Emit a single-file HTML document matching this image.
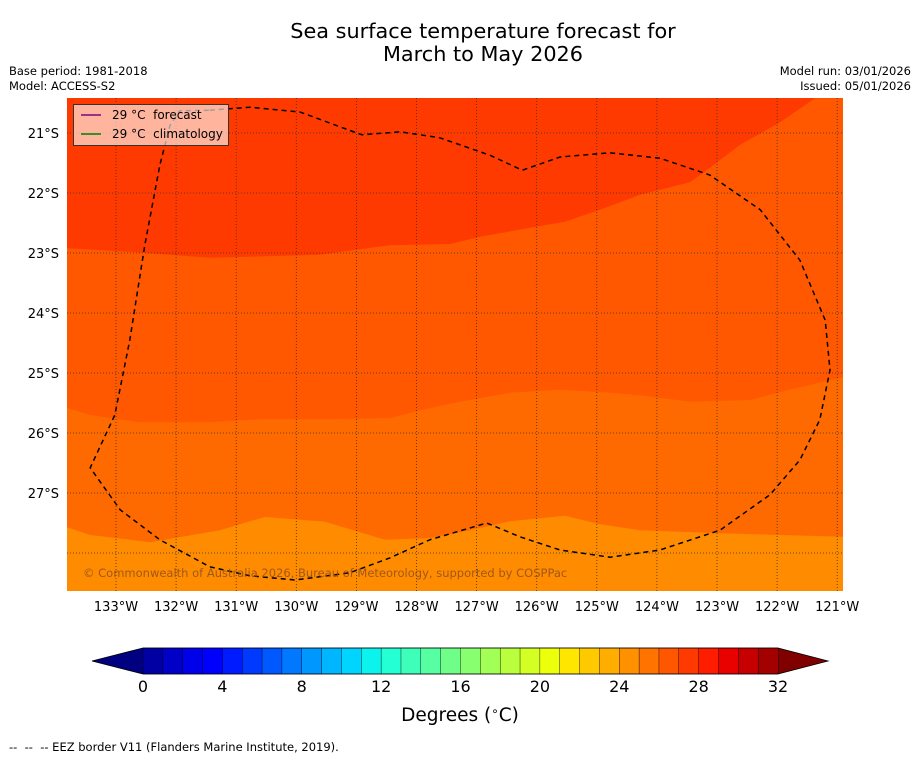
<!DOCTYPE html>
<html><head><meta charset="utf-8"><style>
body{margin:0;background:#fff;font-family:"DejaVu Sans","Liberation Sans",sans-serif}
svg text{font-family:"DejaVu Sans","Liberation Sans",sans-serif}
</style></head><body>
<svg id="c" width="919" height="758" xmlns="http://www.w3.org/2000/svg">
<text x="483" y="38" font-size="20.8" text-anchor="middle">Sea surface temperature forecast for</text>
<text x="483" y="61" font-size="20.8" text-anchor="middle">March to May 2026</text>
<text x="9" y="75" font-size="11.5">Base period: 1981-2018</text>
<text x="9" y="90" font-size="11.5">Model: ACCESS-S2</text>
<text x="911" y="75" font-size="11.5" text-anchor="end">Model run: 03/01/2026</text>
<text x="911" y="90" font-size="11.5" text-anchor="end">Issued: 05/01/2026</text>
<g id="map"></g>
<g id="cbar"></g>
<text x="460" y="721" font-size="18.5" text-anchor="middle">Degrees (<tspan font-size="12" dy="-6">∘</tspan><tspan dy="6">C)</tspan></text>
<text x="9" y="751" font-size="11.5" xml:space="preserve">--  --  -- EEZ border V11 (Flanders Marine Institute, 2019).</text>
</svg>
<script>
// data (lon in degrees W, lat in degrees S)
const lonTicks=[133,132,131,130,129,128,127,126,125,124,123,122,121];
const latTicks=[21,22,23,24,25,26,27];
const bandColors=["#ff3a00","#ff5800","#ff6a00","#ff8c00"];
const b1Lon=[133.82,132.77,131.44,129.61,128.44,127.44,126.94,126.11,125.53,124.95,124.28,123.45,123.12,122.62,121.95,121.37];
const b1Lat=[22.92,22.98,23.08,23.03,22.87,22.85,22.73,22.58,22.48,22.28,22.03,21.82,21.58,21.2,20.82,20.42];
const b2Lon=[133.82,133.43,132.6,131.44,130.6,129.44,128.44,127.94,127.28,126.44,125.61,124.78,124.28,123.45,122.45,121.79,121.12,120.9];
const b2Lat=[25.58,25.7,25.82,25.82,25.77,25.77,25.75,25.62,25.48,25.33,25.28,25.33,25.37,25.48,25.45,25.28,25.12,25.07];
const b3Lon=[133.82,133.43,132.43,131.27,130.52,129.52,128.52,127.77,127.11,126.44,125.53,124.95,124.28,122.95,121.95,120.9];
const b3Lat=[27.57,27.7,27.82,27.62,27.4,27.48,27.78,27.75,27.62,27.47,27.38,27.52,27.62,27.67,27.7,27.73];
const eezLon=[131.44,130.77,129.94,128.91,128.27,127.61,126.78,126.24,125.61,124.78,123.95,123.12,122.28,121.62,121.2,121.12,121.29,121.62,122.12,122.95,123.95,124.78,125.61,126.28,126.83,127.78,128.44,129.11,130.02,130.77,131.44,132.27,132.93,133.43,133.02,132.77,132.52,132.27,132.1,131.94,131.44];
const eezLat=[20.62,20.57,20.65,21.03,20.98,21.08,21.37,21.62,21.4,21.33,21.42,21.7,22.28,23.12,24.12,24.95,25.78,26.45,27.03,27.62,27.95,28.07,27.95,27.73,27.5,27.78,28.08,28.33,28.45,28.38,28.23,27.78,27.28,26.58,25.7,24.45,22.87,21.53,20.87,20.63,20.62];
const cbTicks=[0,4,8,12,16,20,24,28,32];

const NS="http://www.w3.org/2000/svg";
const X0=67,X1=843,Y0=98,Y1=591;
const xs=lon=>116+(133-lon)*60.1;
const ys=lat=>133+(lat-21)*60;
function mk(t,a,p){const e=document.createElementNS(NS,t);for(const k in a)e.setAttribute(k,a[k]);p.appendChild(e);return e;}
const map=document.getElementById('map');
const defs=mk('defs',{},map);
const cp=mk('clipPath',{id:'clip'},defs);mk('rect',{x:X0,y:Y0,width:X1-X0,height:Y1-Y0},cp);
const g=mk('g',{'clip-path':'url(#clip)'},map);
let r=mk('rect',{x:X0,y:Y0,width:X1-X0,height:Y1-Y0,fill:bandColors[3]},g);


function band(lons,lats,color,name){
  let d='M'+(X0-5)+','+(Y0-5);
  lons.forEach((l,i)=>{d+=' L'+xs(l).toFixed(1)+','+ys(lats[i]).toFixed(1);});
  d+=' L'+(X1+5)+','+ys(lats[lats.length-1]).toFixed(1)+' L'+(X1+5)+','+(Y0-5)+'Z';
  const p=mk('path',{d:d,fill:color},g);
  
  
}
band(b3Lon,b3Lat,bandColors[2],'band-26-27');
band(b2Lon,b2Lat,bandColors[1],'band-27-28');
band(b1Lon,b1Lat,bandColors[0],'band-28-29');
lonTicks.forEach(l=>{const x=xs(l);
  const ln=mk('line',{x1:x,x2:x,y1:Y0,y2:Y1,stroke:'#333','stroke-width':0.8,'stroke-dasharray':'1,2'},g);
  
  
  const t=mk('text',{x:x,y:611,'font-size':13,'text-anchor':'middle'},map);t.textContent=l+'°W';
  
  
});
latTicks.concat([28]).forEach(l=>{const y=ys(l);
  const ln=mk('line',{x1:X0,x2:X1,y1:y,y2:y,stroke:'#333','stroke-width':0.8,'stroke-dasharray':'1,2'},g);
  
  
});
latTicks.forEach(l=>{const y=ys(l);
  const t=mk('text',{x:59,y:y+5,'font-size':13,'text-anchor':'end'},map);t.textContent=l+'°S';
  
  
});
let d='';eezLon.forEach((l,i)=>{d+=(i?' L':'M')+xs(l).toFixed(1)+','+ys(eezLat[i]).toFixed(1);});
const eez=mk('path',{d:d,fill:'none',stroke:'#000','stroke-width':1.5,'stroke-dasharray':'5,4'},g);


const wm=mk('text',{x:83,y:577,'font-size':11.5,fill:'#8a4a1a','fill-opacity':0.8},g);
wm.textContent='© Commonwealth of Australia 2026, Bureau of Meteorology, supported by COSPPac';


const lg=mk('g',{},map);


mk('rect',{x:73.5,y:104.5,width:155,height:41,fill:'#fff','fill-opacity':0.62,stroke:'#333','stroke-width':1},lg);
mk('line',{x1:81,x2:101,y1:115,y2:115,stroke:'#800080','stroke-width':1.5},lg);
mk('line',{x1:81,x2:101,y1:134,y2:134,stroke:'#008000','stroke-width':1.5},lg);
let t1=mk('text',{x:112,y:119,'font-size':12},lg);t1.textContent='29 °C\u00a0 forecast';


let t2=mk('text',{x:112,y:138,'font-size':12},lg);t2.textContent='29 °C\u00a0 climatology';


function jetc(v,pts){for(let i=1;i<pts.length;i++){if(v<=pts[i][0]){const a=pts[i-1],b=pts[i];return a[1]+(b[1]-a[1])*(v-a[0])/(b[0]-a[0]);}}return pts[pts.length-1][1];}
const R=[[0,0],[0.35,0],[0.66,1],[0.89,1],[1,0.5]],G=[[0,0],[0.125,0],[0.375,1],[0.64,1],[0.91,0],[1,0]],B=[[0,0.5],[0.11,1],[0.34,1],[0.65,0],[1,0]];
function jet(v){return 'rgb('+[R,G,B].map(p=>Math.round(255*jetc(v,p))).join(',')+')';}
const cb=document.getElementById('cbar');
const C0=143,C1=778,CY0=648,CY1=674,bw=(C1-C0)/32;
let u=mk('polygon',{points:`92,661 ${C0},${CY0} ${C0},${CY1}`,fill:jet(0)},cb);


let o=mk('polygon',{points:`828,661 ${C1},${CY0} ${C1},${CY1}`,fill:jet(1)},cb);


for(let k=0;k<32;k++){
  const rr=mk('rect',{x:C0+k*bw,y:CY0,width:bw+0.3,height:CY1-CY0,fill:jet((k+1)/33),stroke:'#000','stroke-width':0.4},cb);
  
  
}
mk('polygon',{points:`92,661 ${C0},${CY0} ${C1},${CY0} 828,661 ${C1},${CY1} ${C0},${CY1}`,fill:'none',stroke:'#000','stroke-width':0.8},cb);
cbTicks.forEach(v=>{const x=C0+v*bw;
  const t=mk('text',{x:x,y:692,'font-size':16,'text-anchor':'middle'},cb);t.textContent=v;
  
  
});
</script>
</body></html>
